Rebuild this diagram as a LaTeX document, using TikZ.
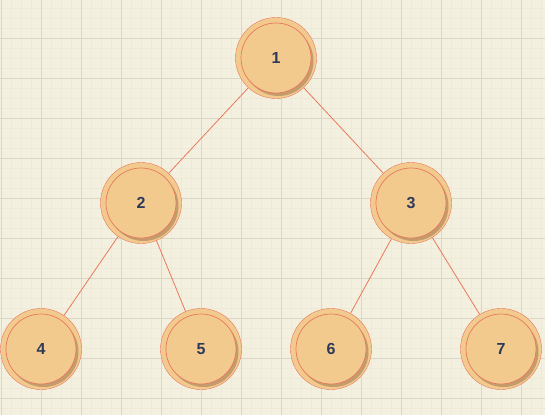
\documentclass[tikz,border=0pt]{standalone}
\usepackage{fontspec}
\setmainfont{Liberation Sans}
\definecolor{paper}{HTML}{F4F0DF}
\definecolor{minorgrid}{HTML}{EEEAD8}
\definecolor{majorgrid}{HTML}{DBD7C6}
\definecolor{linkred}{HTML}{E8785D}
\definecolor{nodefill}{HTML}{F2CA8E}
\definecolor{nodeshadow}{HTML}{C49C6C}
\definecolor{labelnavy}{HTML}{2E3A59}
\tikzset{
  treenode/.style={circle, draw=linkred, fill=nodefill, minimum size=81pt, inner sep=0pt,
    font=\fontsize{16}{19}\selectfont\bfseries, text=labelnavy,
    path picture={
      \fill[nodeshadow] ([shift={(2.5pt,-3pt)}]path picture bounding box.center) circle (35pt);
      \draw[linkred, fill=nodefill, line width=0.7pt] (path picture bounding box.center) circle (35pt);
    }},
  link/.style={draw=linkred, line width=0.8pt}
}
\begin{document}
\begin{tikzpicture}[x=1pt, y=-1pt]
    \useasboundingbox (0,0) rectangle (545,415);
    \fill[paper] (0,0) rectangle (545,415);

    % background grid
    \foreach \gx in {1,11,...,541} \draw[minorgrid, line width=0.8pt] (\gx,0) -- (\gx,415);
    \foreach \gy in {8,18,...,408} \draw[minorgrid, line width=0.8pt] (0,\gy) -- (545,\gy);
    \foreach \gx in {1,41,...,521} \draw[majorgrid, line width=0.8pt] (\gx,0) -- (\gx,415);
    \foreach \gy in {38,78,...,398} \draw[majorgrid, line width=0.8pt] (0,\gy) -- (545,\gy);

    \node[treenode] (n1) at (276,58) {1};
    \node[treenode] (n2) at (141,203) {2};
    \node[treenode] (n3) at (411,203) {3};
    \node[treenode] (n4) at (41,349) {4};
    \node[treenode] (n5) at (201,349) {5};
    \node[treenode] (n6) at (331,349) {6};
    \node[treenode] (n7) at (501,349) {7};

    \draw[link] (n1) -- (n2);
    \draw[link] (n1) -- (n3);
    \draw[link] (n2) -- (n4);
    \draw[link] (n2) -- (n5);
    \draw[link] (n3) -- (n6);
    \draw[link] (n3) -- (n7);
\end{tikzpicture}
\end{document}
